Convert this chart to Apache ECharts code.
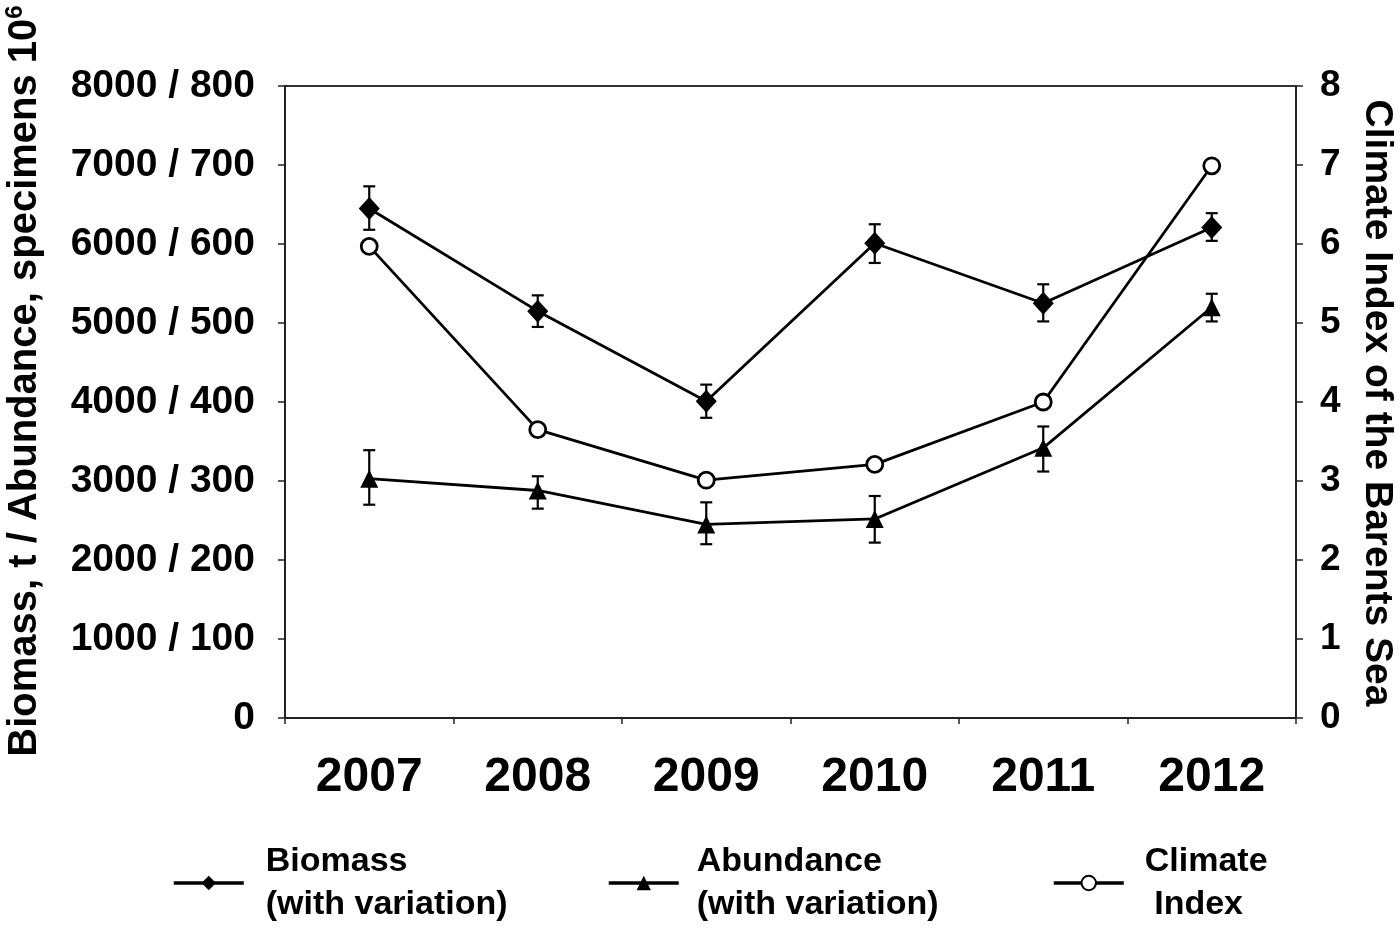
<!DOCTYPE html>
<html><head><meta charset="utf-8">
<script src="https://cdn.jsdelivr.net/npm/echarts@6/dist/echarts.min.js"></script>
<style>html,body{margin:0;padding:0;background:#fff}#c{width:1400px;height:928px}</style>
</head><body><div id="c"></div>
<script>
const years = ['2007', '2008', '2009', '2010', '2011', '2012'];
const biomass = [6450, 5150, 4010, 6010, 5250, 6210];
const biomassLow = [6180, 4950, 3800, 5760, 5020, 6040];
const biomassHigh = [6730, 5350, 4220, 6250, 5490, 6390];
const abundance = [303, 288, 245, 252, 342, 520];
const abundanceLow = [270, 265, 220, 222, 312, 502];
const abundanceHigh = [339, 306, 273, 281, 369, 537];
const climate = [5.97, 3.65, 3.01, 3.21, 4.0, 6.99];
const leftTicks = [0, 1000, 2000, 3000, 4000, 5000, 6000, 7000, 8000];
const rightTicks = [0, 1, 2, 3, 4, 5, 6, 7, 8];
const legendLabels = {
  'Biomass': 'Biomass\n(with variation)',
  'Abundance': 'Abundance\n(with variation)',
  'Climate Index': 'Climate\n Index'
};

const FONT = '"Liberation Sans", Arial, Helvetica, sans-serif';

function errorBar(name, low, high, yIdx) {
  return {
    type: 'custom', name: name, yAxisIndex: yIdx, z: 1, silent: true,
    data: years.map((y, i) => [i, low[i], high[i]]),
    encode: { x: 0, y: [1, 2] },
    renderItem(params, api) {
      const x = api.value(0);
      const lo = api.coord([x, api.value(1)]);
      const hi = api.coord([x, api.value(2)]);
      const w = 6;
      const st = { stroke: '#000', lineWidth: 2.2 };
      return { type: 'group', children: [
        { type: 'line', shape: { x1: lo[0], y1: lo[1], x2: hi[0], y2: hi[1] }, style: st },
        { type: 'line', shape: { x1: lo[0] - w, y1: lo[1], x2: lo[0] + w, y2: lo[1] }, style: st },
        { type: 'line', shape: { x1: hi[0] - w, y1: hi[1], x2: hi[0] + w, y2: hi[1] }, style: st }
      ]};
    }
  };
}

function legendAt(name, left, pad) {
  return {
    data: [name], left: left, top: 840, padding: 0, orient: 'horizontal',
    selectedMode: false, itemWidth: 70, itemHeight: 18,
    lineStyle: { width: 3.5 },
    formatter: n => legendLabels[n],
    textStyle: { fontFamily: FONT, fontSize: 34, fontWeight: 'bold', color: '#000', lineHeight: 43, padding: [0, 0, 0, pad] }
  };
}

const chart = echarts.init(document.getElementById('c'), null, { renderer: 'canvas' });
chart.setOption({
  animation: false,
  backgroundColor: '#fff',
  grid: { left: 285, right: 104, top: 86, bottom: 210, show: true, borderColor: '#333', borderWidth: 2, backgroundColor: 'transparent' },
  xAxis: {
    type: 'category', data: years, boundaryGap: true,
    axisLine: { lineStyle: { color: '#222', width: 2 } },
    axisTick: { show: true, length: 6, alignWithLabel: false, lineStyle: { color: '#222', width: 1.5 } },
    axisLabel: { fontFamily: FONT, fontSize: 48, fontWeight: 'bold', color: '#000', margin: 36 },
    splitLine: { show: false }
  },
  yAxis: [
    {
      type: 'value', position: 'left', min: leftTicks[0], max: leftTicks[leftTicks.length - 1], interval: 1000,
      axisLine: { show: true, lineStyle: { color: '#222', width: 2 } },
      axisTick: { show: true, length: 7, lineStyle: { color: '#222', width: 1.5 } },
      axisLabel: { fontFamily: FONT, fontSize: 39, fontWeight: 'bold', color: '#000', margin: 30,
        formatter: v => v === 0 ? '0' : v + ' / ' + (v / 10) },
      splitLine: { show: false }
    },
    {
      type: 'value', position: 'right', min: rightTicks[0], max: rightTicks[rightTicks.length - 1], interval: 1,
      axisLine: { show: true, lineStyle: { color: '#222', width: 2 } },
      axisTick: { show: true, length: 7, lineStyle: { color: '#222', width: 1.5 } },
      axisLabel: { fontFamily: FONT, fontSize: 37, fontWeight: 'bold', color: '#000', margin: 24 },
      splitLine: { show: false }
    },
    {
      type: 'value', position: 'left', min: 0, max: 800, interval: 100, show: false,
      splitLine: { show: false }
    }
  ],
  legend: [
    legendAt('Biomass', 172, 17),
    legendAt('Abundance', 607, 13),
    legendAt('Climate Index', 1052, 16)
  ],
  graphic: [
    { type: 'text', x: 25, y: 381, rotation: Math.PI / 2, z: 10,
      style: { text: '{a|Biomass, t / Abundance, specimens 10}{s|6}', align: 'center', verticalAlign: 'middle',
        rich: { a: { fontFamily: FONT, fontSize: 40, fontWeight: 'bold', fill: '#000', lineHeight: 44 },
                s: { fontFamily: FONT, fontSize: 24, fontWeight: 'bold', fill: '#000', verticalAlign: 'top', lineHeight: 44 } } } },
    { type: 'text', x: 1377, y: 403, rotation: -Math.PI / 2, z: 10,
      style: { text: 'Climate Index of the Barents Sea', align: 'center', verticalAlign: 'middle',
        fontFamily: FONT, fontSize: 39, fontWeight: 'bold', fill: '#000' } }
  ],
  series: [
    errorBar('biomassErr', biomassLow, biomassHigh, 0),
    errorBar('abundanceErr', abundanceLow, abundanceHigh, 2),
    { name: 'Biomass', type: 'line', yAxisIndex: 0, data: biomass, z: 3,
      symbol: 'diamond', symbolSize: [21, 23], showAllSymbol: true,
      itemStyle: { color: '#000' }, lineStyle: { color: '#000', width: 2.8 } },
    { name: 'Abundance', type: 'line', yAxisIndex: 2, data: abundance, z: 3,
      symbol: 'triangle', symbolSize: [18, 18], showAllSymbol: true,
      itemStyle: { color: '#000' }, lineStyle: { color: '#000', width: 2.8 } },
    { name: 'Climate Index', type: 'line', yAxisIndex: 1, data: climate, z: 4,
      symbol: 'circle', symbolSize: 16, showAllSymbol: true,
      itemStyle: { color: '#fff', borderColor: '#000', borderWidth: 2.8 }, lineStyle: { color: '#000', width: 2.8 } }
  ]
});
</script>
</body></html>
